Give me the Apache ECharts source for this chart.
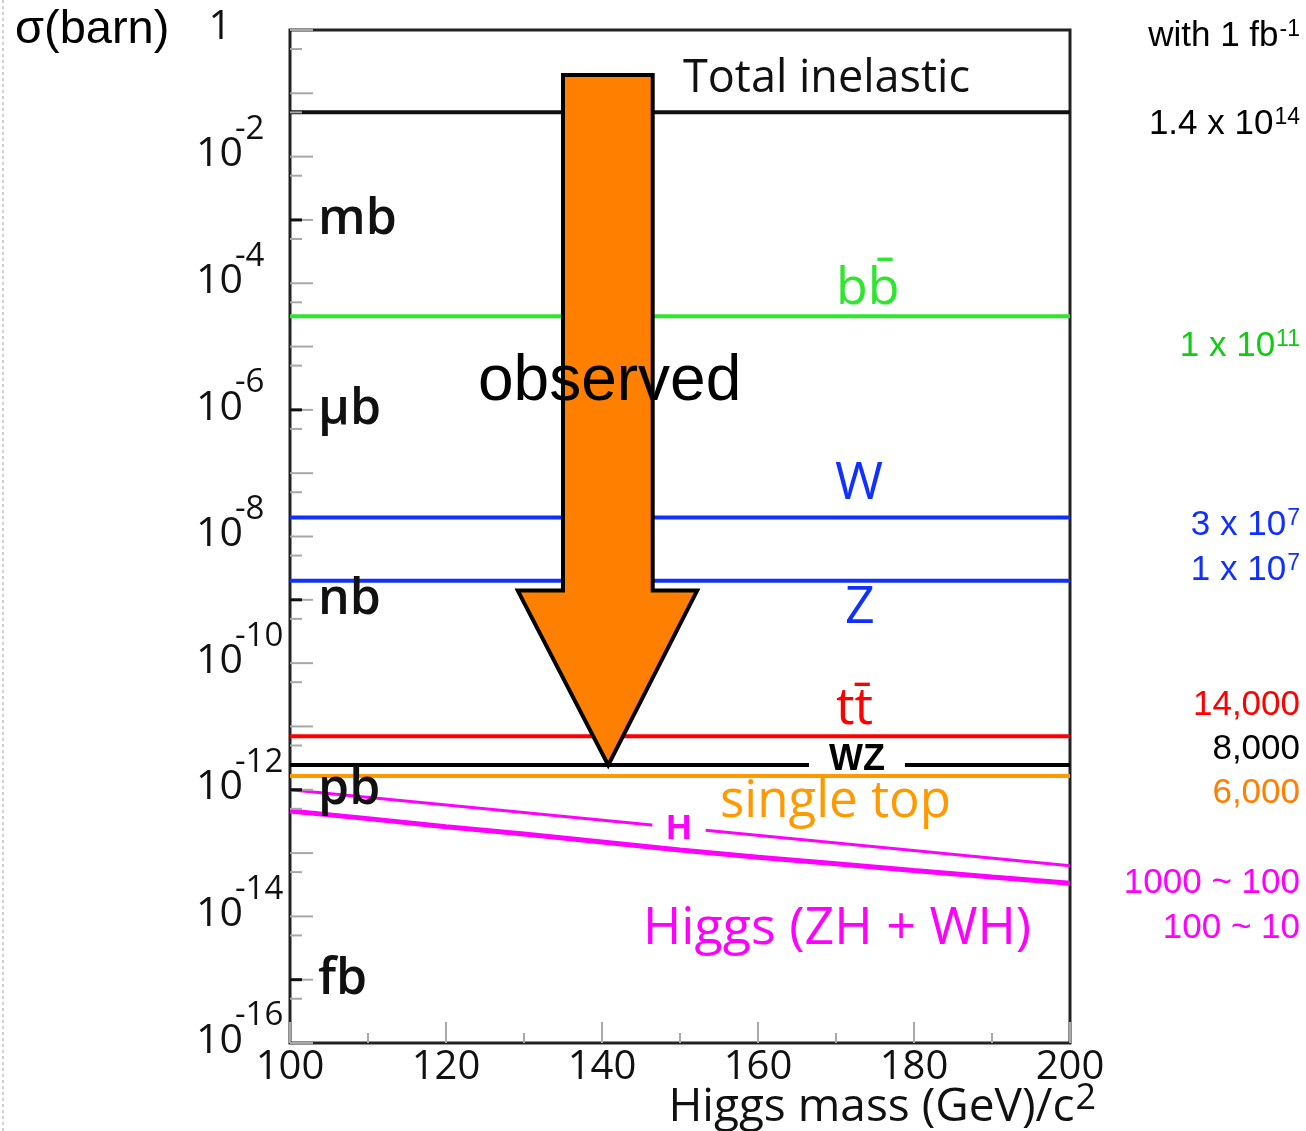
<!DOCTYPE html>
<html>
<head>
<meta charset="utf-8">
<script src="https://cdn.jsdelivr.net/npm/echarts@6/dist/echarts.min.js"></script>
<style>
  html, body { margin: 0; padding: 0; background: #fff; }
  #chart { width: 1306px; height: 1131px; }
</style>
</head>
<body>
<div id="chart"></div>
<script>
// ---- Data -------------------------------------------------------------
// Higgs mass range (GeV/c^2)
const massRange = [100, 200];

// Cross sections (barn) that do not depend on the Higgs mass
const totalInelastic = 0.05;
const bbbar = 3e-5;
const wBoson = 2e-8;
const zBoson = 2e-9;
const ttbar = 7e-12;
const wzPair = 2.45e-12;
const singleTop = 1.65e-12;

// Higgs production versus mass
const higgsMass = [100, 200];
const higgsSigma = [1.0e-12, 6.3e-14];
const assocMass = [100, 110, 120, 130, 140, 150, 160, 170, 180, 190, 200];
const assocSigma = [4.6e-13, 3.5e-13, 2.6e-13, 2.0e-13, 1.5e-13, 1.12e-13, 8.6e-14, 6.8e-14, 5.3e-14, 4.2e-14, 3.35e-14];

// Vertical axis: labelled decades and unit marks
const labelExps = [0, -2, -4, -6, -8, -10, -12, -14, -16];
const unitExps = [-3, -6, -9, -12, -15];
const unitNames = ['mb', 'μb', 'nb', 'pb', 'fb'];

// "observed" arrow outline (mass, barn)
const arrowMass = [135.0, 146.5, 146.5, 152.2, 140.8, 129.2, 135.0];
const arrowSigma = [0.195, 0.195, 1.4e-9, 1.4e-9, 2.45e-12, 1.4e-9, 1.4e-9];

// Expected event counts with 1 fb^-1 (text after ^ is a superscript)
const countHeader = 'with 1 fb^-1';
const countTexts = ['1.4 x 10^14', '1 x 10^11', '3 x 10^7', '1 x 10^7', '14,000', '8,000', '6,000', '1000 ~ 100', '100 ~ 10'];

// ---- Layout & style ---------------------------------------------------
const SANS = '"Open Sans", "Noto Sans", sans-serif';
const ARIAL = '"Liberation Sans", Arial, sans-serif';
const TICK_GREY = '#a8a8a8';
const GREEN = '#2ee62e', BLUE = '#1030ff', RED = '#ff0000', ORANGE = '#ff9900', MAGENTA = '#ff00ff';

const countColors = ['#000', '#11cc11', BLUE, BLUE, RED, '#000', '#ff7f00', MAGENTA, MAGENTA];
const countY = [124, 346, 525, 570, 705, 749, 793, 883, 928];

const ctx = document.createElement('canvas').getContext('2d');
function textWidth(str, size, family, weight) {
  ctx.font = (weight || 'normal') + ' ' + size + 'px ' + family;
  return ctx.measureText(str).width;
}
// right-aligned text with an optional superscript part
function supLabel(str, right, cy, size, supSize, color, family, raise) {
  const parts = str.split('^');
  const els = [];
  let mainRight = right;
  if (parts.length > 1) {
    mainRight = right - textWidth(parts[1], supSize, family) - 1;
    els.push({
      type: 'text', x: right, y: cy - 0.358 * size - (raise || 2) + 0.358 * supSize, z: 100,
      style: { text: parts[1], fontSize: supSize, fontFamily: family, fill: color, align: 'right', verticalAlign: 'middle' }
    });
  }
  els.push({
    type: 'text', x: mainRight, y: cy, z: 100,
    style: { text: parts[0], fontSize: size, fontFamily: family, fill: color, align: 'right', verticalAlign: 'middle' }
  });
  return els;
}
function label(text, x, y, size, color, opts) {
  return {
    type: 'text', x: x, y: y, z: 100,
    style: Object.assign({ text: text, fontSize: size, fontFamily: SANS, fill: color, align: 'left', verticalAlign: 'middle' }, opts || {})
  };
}

function flatLine(value, color, width) {
  return {
    type: 'line', silent: true, symbol: 'none', z: 2,
    data: massRange.map(m => [m, value]),
    lineStyle: { color: color, width: width }
  };
}

// tick positions on the log axis
const decadeVals = [];
for (let e = 0; e >= -16; e--) decadeVals.push(Math.pow(10, e));
const halfVals = [];
for (let e = 0; e > -16; e--) halfVals.push(5 * Math.pow(10, e - 1));

function tickSeries(vals, len, color, width) {
  return {
    type: 'custom', coordinateSystem: 'cartesian2d', clip: false, silent: true, z: 3,
    data: vals.map(v => [massRange[0], v]),
    renderItem: function (params, api) {
      const p = api.coord([api.value(0), api.value(1)]);
      return { type: 'line', shape: { x1: p[0], y1: p[1], x2: p[0] + len, y2: p[1] }, style: { stroke: color, lineWidth: width } };
    }
  };
}

const chart = echarts.init(document.getElementById('chart'));

const graphic = [
  // faint dotted edge on the far left
  { type: 'line', shape: { x1: 3, y1: 0, x2: 3, y2: 1131 }, style: { stroke: '#d0d0d0', lineWidth: 2, lineDash: [3, 3] }, z: 0 },
  { type: 'text', x: 15, y: 30, z: 100, style: { text: 'σ(barn)', fontSize: 47, fontFamily: ARIAL, fill: '#000', align: 'left', verticalAlign: 'middle' } },
  label('Total inelastic', 683, 79, 45, '#111'),
  label('bb\u0304', 836, 289, 52, GREEN),
  label('W', 835, 484, 52, BLUE),
  label('Z', 845, 608, 52, BLUE),
  label('tt\u0304', 836, 709, 52, RED),
  label('single top', 720, 802, 51, ORANGE),
  label('Higgs (ZH + WH)', 643, 929, 52, MAGENTA),
  label('observed', 478, 382, 64, '#000', { fontFamily: ARIAL }),
  label('WZ', 857, 760, 36, '#000', { fontFamily: ARIAL, fontWeight: 'bold', align: 'center', backgroundColor: '#fff', padding: [0, 20], lineHeight: 24 }),
  label('H', 679, 829, 35, MAGENTA, { fontFamily: ARIAL, fontWeight: 'bold', align: 'center', backgroundColor: '#fff', padding: [0, 14], lineHeight: 26 })
];
graphic.push(...supLabel(countHeader, 1300, 36, 35, 23, '#000', ARIAL));
countTexts.forEach((t, i) => graphic.push(...supLabel(t, 1300, countY[i], 35, 23, countColors[i], ARIAL)));
graphic.push(...supLabel('Higgs mass (GeV)/c^2', 1096, 1108, 46, 36, '#111', SANS, 6));

const option = {
  animation: false,
  backgroundColor: '#fff',
  grid: { left: 290, top: 30, width: 780, height: 1013, show: true, borderColor: '#222', borderWidth: 3, backgroundColor: 'transparent' },
  xAxis: {
    type: 'value', min: massRange[0], max: massRange[1], interval: 20,
    axisLine: { show: false },
    axisTick: { inside: true, length: 21, lineStyle: { color: TICK_GREY, width: 2 } },
    minorTick: { show: true, splitNumber: 2, length: 10, lineStyle: { color: TICK_GREY, width: 2 } },
    splitLine: { show: false },
    axisLabel: { fontSize: 40, fontFamily: SANS, color: '#111', margin: 5 }
  },
  yAxis: {
    type: 'log', logBase: 10, min: 1e-16, max: 1,
    axisLine: { show: false }, axisTick: { show: false }, axisLabel: { show: false },
    splitLine: { show: false }, minorTick: { show: false }
  },
  series: [
    tickSeries(decadeVals, 23, TICK_GREY, 2),
    tickSeries(halfVals, 12, TICK_GREY, 2),
    // unit marks and names
    {
      type: 'custom', coordinateSystem: 'cartesian2d', clip: false, silent: true, z: 4,
      data: unitExps.map((e, i) => [massRange[0], Math.pow(10, e), i]),
      renderItem: function (params, api) {
        const p = api.coord([api.value(0), api.value(1)]);
        return {
          type: 'group', children: [
            { type: 'line', shape: { x1: p[0], y1: p[1], x2: p[0] + 12, y2: p[1] }, style: { stroke: '#111', lineWidth: 3 } },
            { type: 'text', x: p[0] + 28, y: p[1], style: { text: unitNames[api.value(2)], fontSize: 50, fontWeight: 600, fontFamily: SANS, fill: '#111', align: 'left', verticalAlign: 'middle' } }
          ]
        };
      }
    },
    // decade labels 1, 10^-2 ... 10^-16
    {
      type: 'custom', coordinateSystem: 'cartesian2d', clip: false, silent: true, z: 4,
      data: labelExps.map(e => [massRange[0], Math.pow(10, e), e]),
      renderItem: function (params, api) {
        const p = api.coord([api.value(0), api.value(1)]);
        const e = api.value(2);
        if (e === 0) {
          return { type: 'text', x: p[0] - 70, y: p[1] - 2, style: { text: '1', fontSize: 40, fontFamily: SANS, fill: '#111', align: 'center', verticalAlign: 'middle' } };
        }
        return {
          type: 'group', children: [
            { type: 'text', x: p[0] - 47, y: p[1] - 2, style: { text: '10', fontSize: 41, fontFamily: SANS, fill: '#111', align: 'right', verticalAlign: 'middle' } },
            { type: 'text', x: p[0] - 55, y: p[1] - 27, style: { text: '-' + (-e), fontSize: 33, fontFamily: SANS, fill: '#111', align: 'left', verticalAlign: 'middle' } }
          ]
        };
      }
    },
    flatLine(totalInelastic, '#111', 4),
    flatLine(bbbar, GREEN, 4),
    flatLine(wBoson, BLUE, 4),
    flatLine(zBoson, BLUE, 4),
    flatLine(ttbar, RED, 4),
    flatLine(wzPair, '#000', 4),
    flatLine(singleTop, ORANGE, 4),
    {
      type: 'line', silent: true, symbol: 'none', z: 2,
      data: higgsMass.map((m, i) => [m, higgsSigma[i]]),
      lineStyle: { color: MAGENTA, width: 3 }
    },
    {
      type: 'line', silent: true, symbol: 'none', z: 2,
      data: assocMass.map((m, i) => [m, assocSigma[i]]),
      lineStyle: { color: MAGENTA, width: 5 }
    },
    // the "observed" arrow
    {
      type: 'custom', coordinateSystem: 'cartesian2d', clip: false, silent: true, z: 10,
      data: [[arrowMass[0], arrowSigma[0]]],
      renderItem: function (params, api) {
        const pts = arrowMass.map((m, i) => api.coord([m, arrowSigma[i]]));
        return { type: 'polygon', shape: { points: pts }, style: { fill: '#ff8000', stroke: '#000', lineWidth: 4, lineJoin: 'miter' } };
      }
    }
  ],
  graphic: graphic
};
chart.setOption(option);
</script>
</body>
</html>
